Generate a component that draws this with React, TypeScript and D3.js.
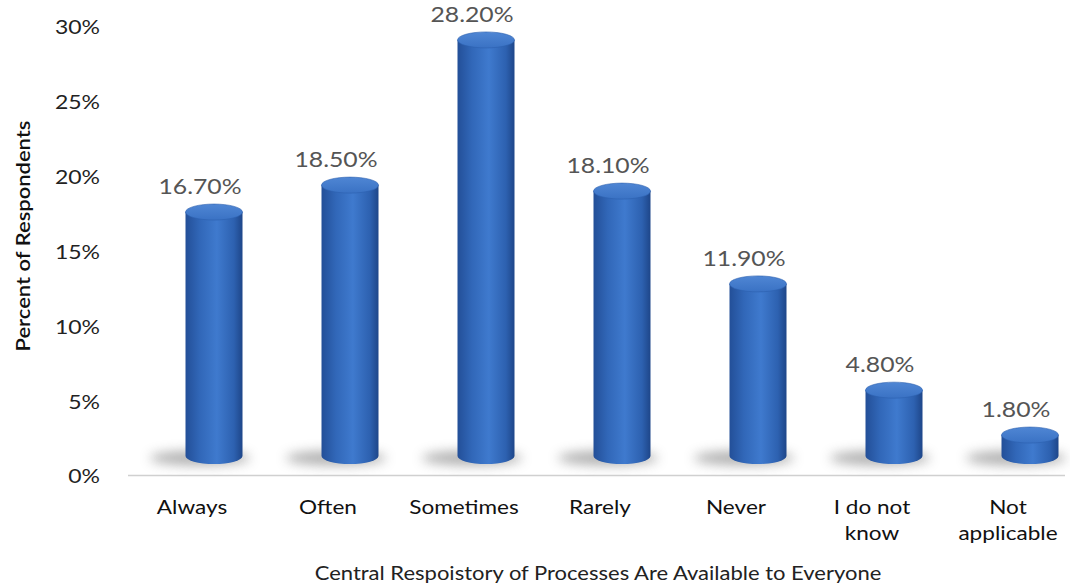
import React from "react";
import * as d3 from "d3";

const categories = [
  ["Always"],
  ["Often"],
  ["Sometimes"],
  ["Rarely"],
  ["Never"],
  ["I do not", "know"],
  ["Not", "applicable"],
];
const values = [16.7, 18.5, 28.2, 18.1, 11.9, 4.8, 1.8];
const yTicks = [0, 5, 10, 15, 20, 25, 30];

const width = 1070;
const height = 583;
const font = "Lato, 'Open Sans', sans-serif";

// text drawn a bit wider than it is tall, as in the source image
function WideText({ x, y, sx = 1.13, size = 20, anchor = "middle", fill = "#111", weight = 400, rotate = 0, children }: any) {
  return (
    <text
      transform={`translate(${x},${y}) rotate(${rotate}) scale(${sx},1)`}
      textAnchor={anchor}
      fontFamily={font}
      fontSize={size}
      fontWeight={weight}
      fill={fill}
      dominantBaseline="central"
    >
      {children}
    </text>
  );
}

export default function App() {
  const keys = categories.map((c) => c.join(" "));
  const x = d3.scaleBand().domain(keys).range([124, 1076]).padding(0);
  const y = d3.scaleLinear().domain([0, 30]).range([476, 27]);

  const depth = 14; // 3d offset up
  const shift = 22; // 3d offset right
  const bw = 57;
  const ry = 8;

  return (
    <svg
      width={width}
      height={height}
      style={{ position: "absolute", left: 0, top: 0, background: "#fff" }}
    >
      <defs>
        <linearGradient id="body" x1="0" x2="1" y1="0" y2="0">
          <stop offset="0%" stopColor="#234f98" />
          <stop offset="25%" stopColor="#3167b8" />
          <stop offset="55%" stopColor="#3f7ace" />
          <stop offset="85%" stopColor="#2d61b0" />
          <stop offset="100%" stopColor="#1e4689" />
        </linearGradient>
        <linearGradient id="top" x1="0" x2="0" y1="0" y2="1">
          <stop offset="0%" stopColor="#4f86d4" />
          <stop offset="100%" stopColor="#3a72c4" />
        </linearGradient>
        <filter id="blur" x="-50%" y="-100%" width="200%" height="300%">
          <feGaussianBlur stdDeviation="6" />
        </filter>
      </defs>

      {/* floor line */}
      <line x1={128} x2={1065} y1={475.5} y2={475.5} stroke="#d0d0d0" strokeWidth={1.5} />

      {/* y ticks */}
      {yTicks.map((t) => (
        <WideText key={t} x={100} y={y(t)} anchor="end" fill="#222" sx={1.15}>
          {t}%
        </WideText>
      ))}

      <WideText x={22} y={236} rotate={-90} weight={600} sx={1.1}>
        Percent of Respondents
      </WideText>

      {values.map((v, i) => {
        const cx = (x(keys[i]) as number) + x.bandwidth() / 2 + shift;
        const yt = y(v) - depth;
        const yb = y(0) - 20;
        const l = cx - bw / 2;
        const r = cx + bw / 2;
        return (
          <g key={keys[i]}>
            <ellipse
              cx={cx - 14}
              cy={yb + 2}
              rx={50}
              ry={7}
              fill="#8a8a8a"
              opacity={0.7}
              filter="url(#blur)"
            />
            <path
              d={`M${l},${yt} L${l},${yb} A${bw / 2},${ry} 0 0 0 ${r},${yb} L${r},${yt} Z`}
              fill="url(#body)"
            />
            <ellipse cx={cx} cy={yt} rx={bw / 2} ry={ry} fill="url(#top)" stroke="#2c5fae" strokeWidth={0.6} />
            <WideText x={cx - 14} y={yt - ry - 18} size={21} sx={1.18} fill="#555">
              {v.toFixed(2)}%
            </WideText>
          </g>
        );
      })}

      {categories.map((lines, i) => {
        const cx = (x(keys[i]) as number) + x.bandwidth() / 2;
        return (
          <g key={keys[i]}>
            {lines.map((ln, j) => (
              <WideText key={j} x={cx} y={507 + j * 26}>
                {ln}
              </WideText>
            ))}
          </g>
        );
      })}

      <WideText x={598} y={572} fill="#222" sx={1.1}>
        Central Respoistory of Processes Are Available to Everyone
      </WideText>
    </svg>
  );
}
